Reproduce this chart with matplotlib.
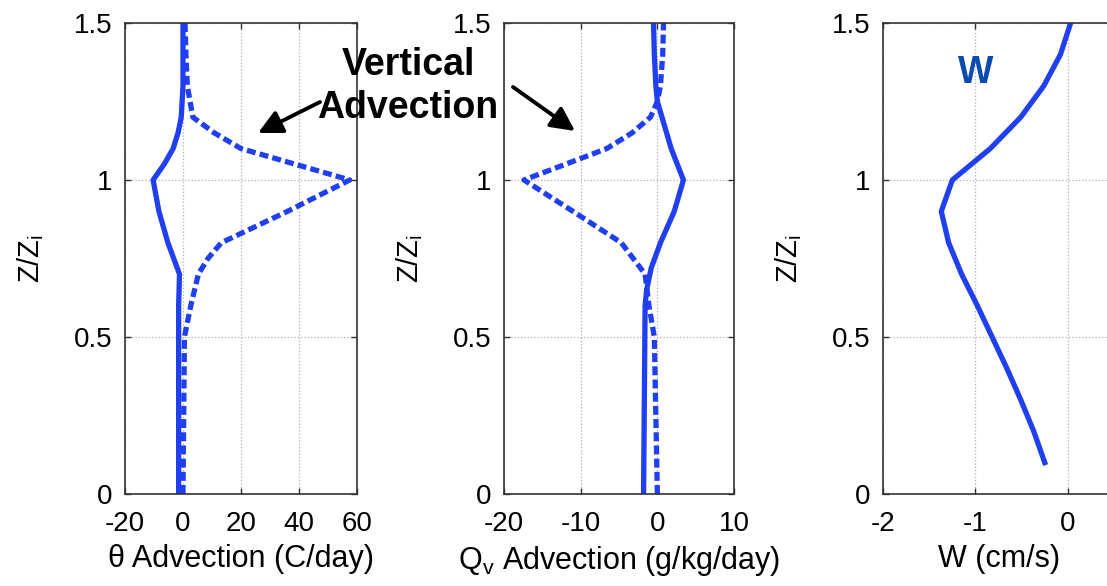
import matplotlib
matplotlib.use('Agg')
import matplotlib.pyplot as plt

plt.rcParams['font.family'] = ['Liberation Sans', 'DejaVu Sans']
plt.rcParams['mathtext.default'] = 'regular'
plt.rcParams['axes.unicode_minus'] = False

# theta advection (C/day)
z_theta_solid = [0, 0.6, 0.7, 0.8, 0.9, 1.0, 1.05, 1.1, 1.15, 1.2, 1.3, 1.4, 1.5]
theta_solid = [-1.5, -1.5, -1.2, -5.2, -8.3, -10.3, -6.5, -3.4, -1.7, -0.6, 0, 0, 0]
z_theta_dot = [0, 0.5, 0.6, 0.7, 0.75, 0.8, 0.9, 1.0, 1.1, 1.15, 1.2, 1.3, 1.4, 1.5]
theta_dot = [0, 0.5, 2.7, 5.3, 8.6, 13.2, 36, 57.5, 20, 10.8, 3.4, 1.5, 1.0, 0.7]

# Qv advection (g/kg/day)
z_qv_solid = [0, 0.6, 0.65, 0.72, 0.8, 0.9, 1.0, 1.1, 1.2, 1.25, 1.3, 1.4, 1.5]
qv_solid = [-1.8, -1.6, -1.4, -0.8, 0.4, 2.2, 3.4, 1.8, 0.6, 0.0, -0.2, -0.4, -0.5]
z_qv_dot = [0, 0.5, 0.6, 0.7, 0.8, 0.9, 1.0, 1.1, 1.15, 1.2, 1.25, 1.3, 1.4, 1.5]
qv_dot = [0, -0.4, -1.1, -1.6, -4.7, -11, -17.4, -6.6, -3.3, -0.9, 0.0, 0.4, 0.7, 0.8]

# vertical velocity (cm/s)
z_w = [0.1, 0.2, 0.3, 0.4, 0.5, 0.6, 0.7, 0.8, 0.9, 1.0, 1.1, 1.2, 1.3, 1.4, 1.5]
w = [-0.25, -0.37, -0.51, -0.66, -0.82, -0.98, -1.15, -1.29, -1.37, -1.25,
     -0.84, -0.51, -0.26, -0.08, 0.03]

xlims = [(-20, 60), (-20, 10), (-2, 0.5)]
xticks = [[-20, 0, 20, 40, 60], [-20, -10, 0, 10], [-2, -1, 0]]
xlabels = ['θ Advection (C/day)', '$Q_v$ Advection (g/kg/day)', 'W (cm/s)']

blue = '#2040f0'
lw = 3.8
dot_style = (0, (1.7, 0.8))

fig = plt.figure(figsize=(11.07, 5.86), dpi=100)
lefts = [0.1129, 0.4553, 0.7977]
widths = [0.2096, 0.2078, 0.2087]
axes = []
for i in range(3):
    ax = fig.add_axes([lefts[i], 0.157, widths[i], 0.8038])
    ax.set_xlim(*xlims[i])
    ax.set_ylim(0, 1.5)
    ax.set_xticks(xticks[i])
    ax.set_yticks([0, 0.5, 1, 1.5])
    ax.set_yticklabels(['0', '0.5', '1', '1.5'])
    ax.grid(True, linestyle=':', color='#b0b0b0', linewidth=0.9)
    ax.tick_params(direction='in', length=4, width=1, labelsize=20,
                   top=True, right=True, color='#333333')
    ax.tick_params(axis='x', pad=12)
    ax.tick_params(axis='y', pad=9)
    for s in ax.spines.values():
        s.set_color('#333333')
        s.set_linewidth(1.2)
    ax.set_xlabel(xlabels[i], fontsize=22, labelpad=5)
    ax.set_ylabel('$Z/Z_i$', fontsize=21, labelpad=20)
    axes.append(ax)

ax1, ax2, ax3 = axes
ax1.plot(theta_solid, z_theta_solid, color=blue, lw=lw)
ax1.plot(theta_dot, z_theta_dot, color=blue, lw=lw, linestyle=dot_style, dash_capstyle='butt')
ax2.plot(qv_solid, z_qv_solid, color=blue, lw=lw)
ax2.plot(qv_dot, z_qv_dot, color=blue, lw=lw, linestyle=dot_style, dash_capstyle='butt')
ax3.plot(w, z_w, color=blue, lw=lw)

ax3.text(-1.0, 1.31, 'W', color='#0b4aae', fontsize=27, fontweight='bold',
         ha='center', va='baseline')

# annotation text + arrows
fig.text(0.3686, 1 - 75 / 586, 'Vertical', fontsize=27, fontweight='bold',
         ha='center', va='baseline')
fig.text(0.3686, 1 - 118 / 586, 'Advection', fontsize=27, fontweight='bold',
         ha='center', va='baseline')
arrow = dict(arrowstyle='-|>', color='black', lw=2.8, mutation_scale=36, shrinkA=0, shrinkB=0)
fig.add_artist(plt.Annotation('', xy=(258 / 1107, 1 - 133 / 586), xytext=(320 / 1107, 1 - 102 / 586),
                              xycoords='figure fraction', textcoords='figure fraction',
                              arrowprops=arrow))
fig.add_artist(plt.Annotation('', xy=(575 / 1107, 1 - 131 / 586), xytext=(513 / 1107, 1 - 87 / 586),
                              xycoords='figure fraction', textcoords='figure fraction',
                              arrowprops=arrow))

fig.savefig('out.png', dpi=100)
